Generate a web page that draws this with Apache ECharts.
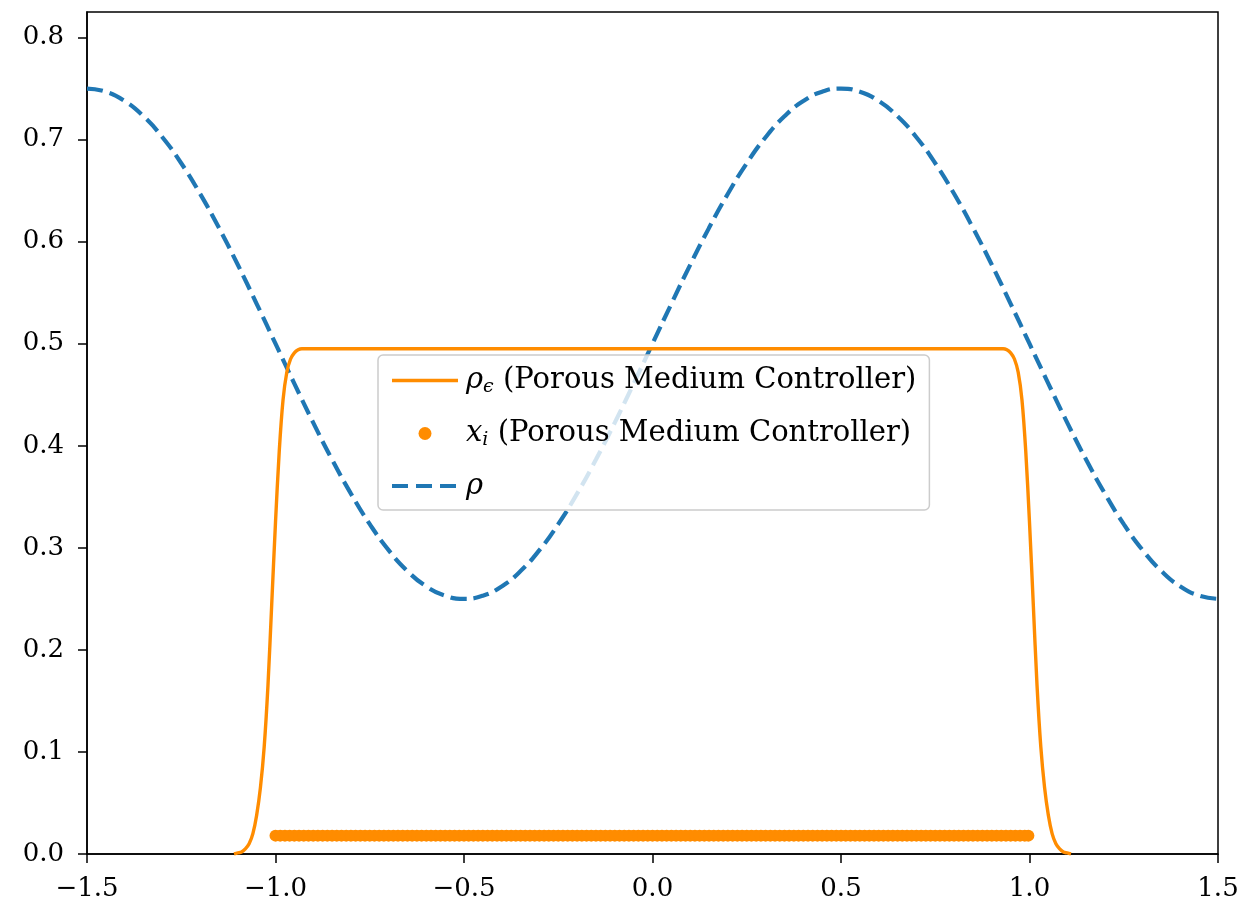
<!DOCTYPE html>
<html>
<head>
<meta charset="utf-8">
<script src="https://cdn.jsdelivr.net/npm/echarts@6/dist/echarts.min.js"></script>
<style>html,body{margin:0;padding:0;background:#fff}#c{width:1242px;height:903px}</style>
</head>
<body>
<div id="c"></div>
<script>
// blue dashed rho curve
const rhoX = [-1.5,-1.45,-1.4,-1.35,-1.3,-1.25,-1.2,-1.15,-1.1,-1.05,-1.0,-0.95,-0.9,-0.85,-0.8,-0.75,-0.7,-0.65,-0.6,-0.55,-0.5,-0.45,-0.4,-0.35,-0.3,-0.25,-0.2,-0.15,-0.1,-0.05,0.0,0.05,0.1,0.15,0.2,0.25,0.3,0.35,0.4,0.45,0.5,0.55,0.6,0.65,0.7,0.75,0.8,0.85,0.9,0.95,1.0,1.05,1.1,1.15,1.2,1.25,1.3,1.35,1.4,1.45,1.5];
const rhoY = [0.75,0.7469,0.7378,0.7228,0.7023,0.6768,0.6469,0.6135,0.5773,0.5391,0.5,0.4609,0.4227,0.3865,0.3531,0.3232,0.2977,0.2772,0.2622,0.2531,0.25,0.2531,0.2622,0.2772,0.2977,0.3232,0.3531,0.3865,0.4227,0.4609,0.5,0.5391,0.5773,0.6135,0.6469,0.6768,0.7023,0.7228,0.7378,0.7469,0.75,0.7469,0.7378,0.7228,0.7023,0.6768,0.6469,0.6135,0.5773,0.5391,0.5,0.4609,0.4227,0.3865,0.3531,0.3232,0.2977,0.2772,0.2622,0.2531,0.25];
// orange rho_eps curve
const epsX = [-1.11,-1.10,-1.09,-1.08,-1.07,-1.06,-1.05,-1.04,-1.03,-1.02,-1.01,-1.00,-0.99,-0.98,-0.97,-0.96,-0.95,-0.94,-0.93,-0.5,0.0,0.5,0.93,0.94,0.95,0.96,0.97,0.98,0.99,1.00,1.01,1.02,1.03,1.04,1.05,1.06,1.07,1.08,1.09,1.10,1.11];
const epsY = [0.0,0.001,0.002,0.005,0.010,0.020,0.038,0.065,0.105,0.165,0.245,0.325,0.395,0.445,0.472,0.485,0.491,0.494,0.495,0.495,0.495,0.495,0.495,0.494,0.491,0.485,0.472,0.445,0.395,0.325,0.245,0.165,0.105,0.065,0.038,0.020,0.010,0.005,0.002,0.001,0.0];
// particle positions x_i
const ptsX = [
  -1,-0.9875,-0.975,-0.9625,-0.95,-0.9375,-0.925,-0.9125,-0.9,-0.8875,-0.875,-0.8625,-0.85,-0.8375,-0.825,-0.8125,
  -0.8,-0.7875,-0.775,-0.7625,-0.75,-0.7375,-0.725,-0.7125,-0.7,-0.6875,-0.675,-0.6625,-0.65,-0.6375,-0.625,-0.6125,
  -0.6,-0.5875,-0.575,-0.5625,-0.55,-0.5375,-0.525,-0.5125,-0.5,-0.4875,-0.475,-0.4625,-0.45,-0.4375,-0.425,-0.4125,
  -0.4,-0.3875,-0.375,-0.3625,-0.35,-0.3375,-0.325,-0.3125,-0.3,-0.2875,-0.275,-0.2625,-0.25,-0.2375,-0.225,-0.2125,
  -0.2,-0.1875,-0.175,-0.1625,-0.15,-0.1375,-0.125,-0.1125,-0.1,-0.0875,-0.075,-0.0625,-0.05,-0.0375,-0.025,-0.0125,
  0,0.0125,0.025,0.0375,0.05,0.0625,0.075,0.0875,0.1,0.1125,0.125,0.1375,0.15,0.1625,0.175,0.1875,
  0.2,0.2125,0.225,0.2375,0.25,0.2625,0.275,0.2875,0.3,0.3125,0.325,0.3375,0.35,0.3625,0.375,0.3875,
  0.4,0.4125,0.425,0.4375,0.45,0.4625,0.475,0.4875,0.5,0.5125,0.525,0.5375,0.55,0.5625,0.575,0.5875,
  0.6,0.6125,0.625,0.6375,0.65,0.6625,0.675,0.6875,0.7,0.7125,0.725,0.7375,0.75,0.7625,0.775,0.7875,
  0.8,0.8125,0.825,0.8375,0.85,0.8625,0.875,0.8875,0.9,0.9125,0.925,0.9375,0.95,0.9625,0.975,0.9875,0.997
];
const ptsLevel = 0.018;
const xTicks = [-1.5,-1.0,-0.5,0.0,0.5,1.0,1.5];
const yTicks = [0.0,0.1,0.2,0.3,0.4,0.5,0.6,0.7,0.8];
const names = ['rho_eps','x_i','rho'];

const FONT = 'DejaVu Serif';
const ORANGE = '#ff8c00';
const BLUE = '#1f77b4';
const fmt = v => (v < 0 ? '\u2212' : '') + Math.abs(v).toFixed(1);
const hidden = {color: 'rgba(0,0,0,0)', borderColor: 'rgba(0,0,0,0)', borderWidth: 0, opacity: 0};

const chart = echarts.init(document.getElementById('c'), null, {renderer: 'canvas'});
chart.setOption({
  animation: false,
  backgroundColor: '#fff',
  grid: {left: 87, right: 24, top: 12, bottom: 49, show: true, borderColor: '#000', borderWidth: 1.5, backgroundColor: 'transparent'},
  xAxis: {
    type: 'value', min: -1.5, max: 1.5, interval: 0.5,
    splitLine: {show: false},
    axisLine: {onZero: false, lineStyle: {color: '#000', width: 1.5}},
    axisTick: {length: 9, lineStyle: {color: '#000', width: 1.5}, customValues: xTicks},
    axisLabel: {color: '#000', fontFamily: FONT, fontSize: 26, margin: 22, formatter: fmt, customValues: xTicks}
  },
  yAxis: {
    type: 'value', min: 0, max: 0.825, interval: 0.1,
    splitLine: {show: false},
    axisLine: {onZero: false, lineStyle: {color: '#000', width: 1.5}},
    axisTick: {length: 9, lineStyle: {color: '#000', width: 1.5}, customValues: yTicks},
    axisLabel: {color: '#000', fontFamily: FONT, fontSize: 26, margin: 23, formatter: fmt, customValues: yTicks}
  },
  legend: {
    orient: 'vertical', left: 378, top: 355,
    data: [
      {name: names[0], itemStyle: hidden, lineStyle: {color: ORANGE, width: 3.5}},
      {name: names[1], icon: 'circle'},
      {name: names[2], itemStyle: hidden, lineStyle: {color: BLUE, width: 4, type: [16, 8]}}
    ],
    itemWidth: 66, itemHeight: 13, itemGap: 20,
    padding: [9, 13, 8, 12],
    backgroundColor: 'rgba(255,255,255,0.8)',
    borderColor: '#cccccc', borderWidth: 1.5, borderRadius: 5,
    formatter: function (n) {
      if (n === names[0]) return '{it|ρ}{sub|ϵ} (Porous Medium Controller)';
      if (n === names[1]) return '{it|x}{sub|i} (Porous Medium Controller)';
      return '{it|ρ}';
    },
    textStyle: {
      color: '#000', fontFamily: FONT, fontSize: 29, lineHeight: 32, padding: [0, 0, 0, 3],
      rich: {
        it: {fontFamily: FONT, fontStyle: 'italic', fontSize: 29, lineHeight: 32, color: '#000'},
        sub: {fontFamily: FONT, fontStyle: 'italic', fontSize: 19, lineHeight: 32, color: '#000', padding: [14, 0, 0, 0]}
      }
    }
  },
  series: [
    {
      name: names[0], type: 'line', z: 3,
      data: epsX.map((x, i) => [x, epsY[i]]),
      showSymbol: false, symbol: 'none', smooth: 0.3,
      lineStyle: {color: ORANGE, width: 3.4}, itemStyle: {color: ORANGE}
    },
    {
      name: names[1], type: 'scatter', z: 4,
      data: ptsX.map(x => [x, ptsLevel]),
      symbol: 'circle', symbolSize: 12,
      itemStyle: {color: ORANGE, opacity: 1}
    },
    {
      name: names[2], type: 'line', z: 2,
      data: rhoX.map((x, i) => [x, rhoY[i]]),
      showSymbol: false, symbol: 'none', smooth: true,
      lineStyle: {color: BLUE, width: 4.2, type: [16, 7]}, itemStyle: {color: BLUE}
    }
  ]
});
</script>
</body>
</html>
